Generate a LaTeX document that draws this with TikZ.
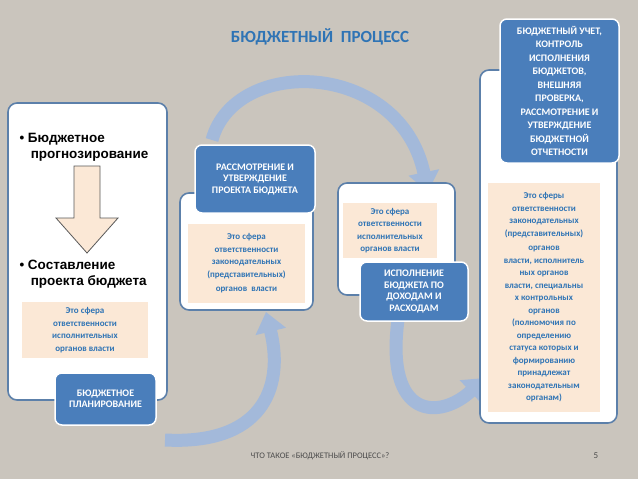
\documentclass[tikz,border=0pt]{standalone}
\usepackage{fontspec}
\setmainfont{Carlito}
\newfontfamily\arialf{Liberation Sans}
\usetikzlibrary{arrows.meta}
\definecolor{bg}{HTML}{CAC5BD}
\definecolor{bblue}{HTML}{4A7EBB}
\definecolor{tblue}{HTML}{2F74B5}
\definecolor{peach}{HTML}{FBE8D6}
\definecolor{frame}{HTML}{5C80AA}
\definecolor{arc}{HTML}{A3B9DA}
\tikzset{
 wbox/.style={draw=frame,line width=1.6pt,fill=white,rounded corners=9pt,inner sep=0pt},
 bluebox/.style={draw=white,line width=1.5pt,fill=bblue,rounded corners=7pt,text=white,font=\bfseries\fontsize{10}{11.5}\selectfont,align=center,inner sep=1pt},
 pbox/.style={fill=peach,text=tblue,font=\bfseries\fontsize{9}{12.5}\selectfont,align=center,inner sep=1pt},
 arcarrow/.style={draw=arc,line width=13pt,-{Triangle[width=30pt,length=20pt]}},
}
\begin{document}
\begin{tikzpicture}[x=1pt,y=-1pt]
\fill[bg] (0,0) rectangle (638,479);
\useasboundingbox (0,0) rectangle (638,479);
\node[font=\bfseries\fontsize{17}{20}\selectfont,text=tblue] (title) at (320,37) {БЮДЖЕТНЫЙ~~ПРОЦЕСС};
% arcs
\coordinate (a1s) at (212,140); \coordinate (a1e) at (428,192);
\draw[arcarrow] (a1s) .. controls (235,55) and (400,60) .. (a1e);
\coordinate (a2s) at (165,440); \coordinate (a2e) at (266,312);
\draw[arcarrow] (a2s) .. controls (260,445) and (285,390) .. (a2e);
\coordinate (a3s) at (398,320); \coordinate (a3e) at (485,378);
\draw[arcarrow] (a3s) .. controls (385,420) and (440,420) .. (a3e);
% box1
\node[wbox,minimum width=159pt,minimum height=297pt] (b1) at (87.5,251.5) {};
\node[anchor=north west,font=\arialf\bfseries\fontsize{13.5}{16}\selectfont,align=left] (t1) at (16,130) {•\ Бюджетное\\\ \ \ прогнозирование};
\draw[draw=gray!70!black,fill=peach,line width=0.8pt] (74,166) -- (100,166) -- (100,218) -- (118,218) -- (87,253) -- (56,218) -- (74,218) -- cycle;
\node[anchor=north west,font=\arialf\bfseries\fontsize{13.5}{16}\selectfont,align=left] (t2) at (16,257) {•\ Составление\\\ \ \ проекта бюджета};
\node[pbox,minimum width=126pt,minimum height=56pt] (p1) at (85,330) {Это сфера\\ответственности\\исполнительных\\органов власти};
\node[bluebox,minimum width=101pt,minimum height=52pt] (h1) at (105.5,399) {БЮДЖЕТНОЕ\\ПЛАНИРОВАНИЕ};
% box2
\node[wbox,minimum width=133pt,minimum height=117pt] (b2) at (246.5,251.5) {};
\node[pbox,minimum width=117pt,minimum height=79pt] (p2) at (246.5,263.5) {Это сфера\\ответственности\\законодательных\\(представительных)\\[2pt]органов~~власти};
\node[bluebox,minimum width=120pt,minimum height=68pt] (h2) at (255,179) {РАССМОТРЕНИЕ И\\УТВЕРЖДЕНИЕ\\ПРОЕКТА БЮДЖЕТА};
% box3
\node[wbox,minimum width=117pt,minimum height=112pt] (b3) at (396.5,239) {};
\node[pbox,minimum width=94pt,minimum height=55pt] (p3) at (390,230.5) {Это сфера\\ответственности\\исполнительных\\органов власти};
\node[bluebox,minimum width=108pt,minimum height=59pt] (h3) at (414,291.5) {ИСПОЛНЕНИЕ\\БЮДЖЕТА ПО\\ДОХОДАМ И\\РАСХОДАМ};
% box4
\node[wbox,minimum width=137pt,minimum height=353pt] (b4) at (548.5,246.5) {};
\node[pbox,minimum width=112pt,minimum height=229pt] (p4) at (544,297.5) {Это сферы\\ответственности\\законодательных\\(представительных)\\[2pt]органов\\власти, исполнитель\\ных органов\\власти, специальны\\х контрольных\\органов\\(полномочия по\\определению\\статуса которых и\\формированию\\принадлежат\\законодательным\\органам)};
\node[bluebox,minimum width=119pt,minimum height=144pt,font=\bfseries\fontsize{10}{13.5}\selectfont] (h4) at (559.5,91) {БЮДЖЕТНЫЙ УЧЕТ,\\КОНТРОЛЬ\\ИСПОЛНЕНИЯ\\БЮДЖЕТОВ,\\ВНЕШНЯЯ\\ПРОВЕРКА,\\РАССМОТРЕНИЕ И\\УТВЕРЖДЕНИЕ\\БЮДЖЕТНОЙ\\ОТЧЕТНОСТИ};
% footer
\node[font=\fontsize{8.5}{10}\selectfont,text=gray!60!black] (f1) at (320,456) {ЧТО ТАКОЕ «БЮДЖЕТНЫЙ ПРОЦЕСС»?};
\node[font=\fontsize{9}{10}\selectfont,text=gray!60!black] (f2) at (596,456) {5};
\end{tikzpicture}
\end{document}
